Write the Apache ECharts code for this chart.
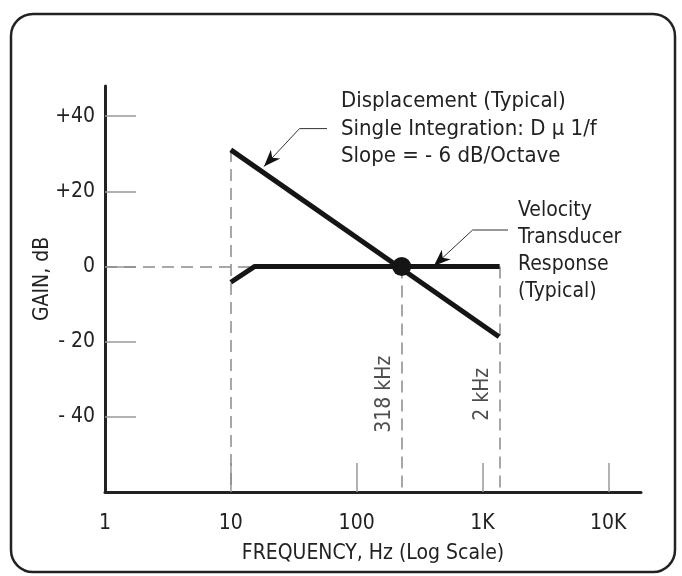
<!DOCTYPE html>
<html><head><meta charset="utf-8">
<script src="https://cdn.jsdelivr.net/npm/echarts@6/dist/echarts.min.js"></script>
<style>html,body{margin:0;padding:0;background:#fff}#c{width:682px;height:576px}</style>
</head><body><div id="c"></div>
<script>
// ---- data ----
const xTickValues = [1, 10, 100, 1000, 10000];
const xTickLabels = ['1', '10', '100', '1K', '10K'];
const yTickValues = [-40, -20, 0, 20, 40];
const yTickLabels = ['- 40', '- 20', '0', '+20', '+40'];
const xRange = [1, 18200];
const yRange = [-60, 48];
const displacementFreq = [10, 1355];
const displacementGain = [31, -18.7];
const velocityFreq = [10, 15.5, 1370];
const velocityGain = [-4.2, 0, 0];
const crossoverFreq = 228;
const crossoverGain = 0;
const markerFreqs = [228, 1360];
const markerLabels = ['318 kHz', '2 kHz'];
const markerLabelGain = -34;
const annoDisplacement = 'Displacement (Typical)\nSingle Integration: D \u03bc 1/f\nSlope = - 6 dB/Octave';
const annoVelocity = 'Velocity\nTransducer\nResponse\n(Typical)';

const FONT = "'Liberation Sans Narrow', 'DejaVu Sans Condensed', 'Roboto Condensed', sans-serif";
const TXT = '#222';

function pairs(xs, ys) { return xs.map((x, i) => [x, ys[i]]); }

// guide (dashed) lines built from the data
const guides = [
  { coords: [[displacementFreq[0], displacementGain[0]], [displacementFreq[0], yRange[0]]] },
  { coords: [[xRange[0], crossoverGain], [crossoverFreq, crossoverGain]] },
  { coords: [[crossoverFreq, crossoverGain], [crossoverFreq, yRange[0]]] },
  { coords: [[markerFreqs[1], velocityGain[2]], [markerFreqs[1], yRange[0]]] }
];

function arrowHead(from, tip, len, half, inner) {
  const dx = tip[0] - from[0], dy = tip[1] - from[1];
  const d = Math.hypot(dx, dy), ux = dx / d, uy = dy / d;
  const bx = tip[0] - ux * len, by = tip[1] - uy * len;
  const ix = tip[0] - ux * inner, iy = tip[1] - uy * inner;
  return [tip, [bx - uy * half, by + ux * half], [ix, iy], [bx + uy * half, by - ux * half]];
}

const a1 = [[327, 128.6], [299.5, 128.6], [264, 166.6]];
const a2 = [[508, 230], [472.6, 230], [433.8, 266]];

const chart = echarts.init(document.getElementById('c'));
chart.setOption({
  animation: false,
  backgroundColor: '#fff',
  textStyle: { fontFamily: FONT },
  grid: { left: 105, right: 41, top: 86, bottom: 84, containLabel: false },
  xAxis: {
    type: 'log', logBase: 10, min: xRange[0], max: xRange[1],
    axisLine: { onZero: false, lineStyle: { color: '#222', width: 3 } },
    axisTick: { inside: true, length: 29, lineStyle: { color: '#999', width: 1.5 }, customValues: xTickValues.slice(1) },
    axisLabel: {
      customValues: xTickValues, margin: 21, fontSize: 21, color: TXT, fontFamily: FONT,
      formatter: v => { const i = Math.round(Math.log10(v)); return xTickLabels[i] !== undefined ? xTickLabels[i] : ''; }
    },
    splitLine: { show: false }, minorTick: { show: false },
    name: 'FREQUENCY, Hz (Log Scale)', nameLocation: 'middle', nameGap: 51,
    nameTextStyle: { fontSize: 21, color: TXT, fontFamily: FONT }
  },
  yAxis: {
    type: 'value', min: yRange[0], max: yRange[1], interval: 20,
    axisLine: { onZero: false, lineStyle: { color: '#222', width: 3 } },
    axisTick: { inside: true, length: 31, lineStyle: { color: '#999', width: 1.5 }, customValues: yTickValues },
    axisLabel: {
      customValues: yTickValues, margin: 10, fontSize: 21, color: TXT, fontFamily: FONT,
      formatter: v => { const i = yTickValues.indexOf(v); return i >= 0 ? yTickLabels[i] : ''; }
    },
    splitLine: { show: false },
    name: 'GAIN, dB', nameLocation: 'middle', nameGap: 52, nameMoveOverlap: false,
    nameTextStyle: { fontSize: 21, color: TXT, fontFamily: FONT, padding: [0, 0, 0, 20] }
  },
  series: [
    {
      type: 'lines', coordinateSystem: 'cartesian2d', silent: true, z: 1,
      lineStyle: { color: '#8a8a8a', width: 1.5, type: [12, 7], opacity: 1 },
      data: guides
    },
    {
      name: 'Displacement', type: 'line', data: pairs(displacementFreq, displacementGain),
      showSymbol: false, z: 3, lineStyle: { color: '#151515', width: 5 }
    },
    {
      name: 'Velocity', type: 'line', data: pairs(velocityFreq, velocityGain),
      showSymbol: false, z: 3, lineStyle: { color: '#151515', width: 5 }
    },
    {
      type: 'scatter', data: [[crossoverFreq, crossoverGain]], symbolSize: 19, z: 4,
      itemStyle: { color: '#151515', opacity: 1 }
    },
    {
      type: 'scatter', symbolSize: 0, z: 4,
      data: markerFreqs.map((f, i) => ({ value: [f, markerLabelGain], name: markerLabels[i] })),
      label: {
        show: true, position: 'inside', rotate: 90, offset: [0, -17],
        formatter: p => p.name, fontSize: 21, color: TXT, fontFamily: FONT
      }
    }
  ],
  graphic: [
    { type: 'rect', shape: { x: 11, y: 14, width: 664, height: 558, r: 22 }, style: { fill: 'none', stroke: '#222', lineWidth: 2.5 }, z: 10 },
    { type: 'text', left: 341, top: 88, style: { text: annoDisplacement, font: '22px ' + FONT, fill: TXT, lineHeight: 27.4 } },
    { type: 'text', left: 518, top: 197, style: { text: annoVelocity, font: '21px ' + FONT, fill: TXT, lineHeight: 27 } },
    { type: 'polyline', shape: { points: a1 }, style: { stroke: '#333', lineWidth: 1, fill: 'none' }, z: 10 },
    { type: 'polygon', shape: { points: arrowHead(a1[1], a1[2], 17, 6.5, 12) }, style: { fill: '#111' }, z: 10 },
    { type: 'polyline', shape: { points: a2 }, style: { stroke: '#333', lineWidth: 1, fill: 'none' }, z: 10 },
    { type: 'polygon', shape: { points: arrowHead(a2[1], a2[2], 17, 6.5, 12) }, style: { fill: '#111' }, z: 10 }
  ]
});
</script></body></html>
